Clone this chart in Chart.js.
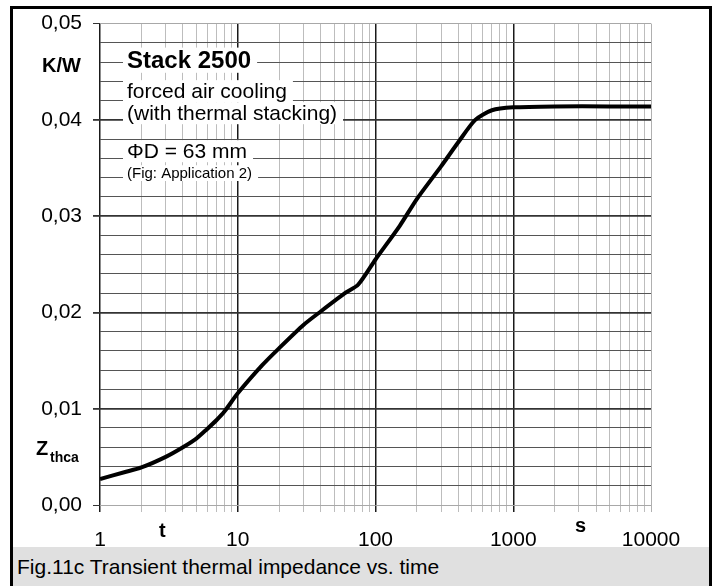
<!DOCTYPE html>
<html>
<head>
<meta charset="utf-8">
<script src="https://cdn.jsdelivr.net/npm/chart.js@4/dist/chart.umd.min.js"></script>
<style>
  html, body { margin: 0; padding: 0; background: #fff; }
  #wrap { position: relative; width: 717px; height: 586px; overflow: hidden; }
  #chart { position: absolute; left: 0; top: 0; }
  #frame { position: absolute; left: 10px; top: 6px; width: 696px; height: 600px;
           border: 3px solid #000; border-bottom: none; pointer-events: none; }
  #caption { position: absolute; left: 13px; top: 547px; width: 696px; height: 39px;
             background: #e0e0e0; font: 21px "Liberation Sans", Arial, sans-serif;
             line-height: 39px; padding-left: 4px; box-sizing: border-box; color: #000; }
</style>
</head>
<body>
<div id="wrap">
  <canvas id="chart" width="717" height="586"></canvas>
  <div id="frame"></div>
  <div id="caption">Fig.11c Transient thermal impedance vs. time</div>
</div>
<script>
// time in s
const times = [1, 1.5, 2, 3, 4, 5, 6, 7, 8, 10, 15, 20, 30, 40, 60, 75, 100, 150, 200, 300, 400, 530, 700, 1000, 2000, 5000, 10000];
// Zthca in K/W
const zthca = [0.0027, 0.0034, 0.0039, 0.0050, 0.0060, 0.0069, 0.0079, 0.0088, 0.0097, 0.0116, 0.0145, 0.0163, 0.0187, 0.0201, 0.0220, 0.0229, 0.0255, 0.0290, 0.0318, 0.0352, 0.0377, 0.0400, 0.0410, 0.0413, 0.0414, 0.0414, 0.0414];

const xDecades = [1, 10, 100, 1000, 10000];
const xMinorSteps = [2, 3, 4, 5, 6, 7, 8, 9];
const yMin = 0, yMax = 0.05, yStep = 0.002;

const annotLines = ["Stack 2500", "forced air cooling", "(with thermal stacking)", "\u03A6D = 63 mm", "(Fig: Application 2)"];

const FONT = '"Liberation Sans", Arial, sans-serif';

function isDecade(v) {
  return xDecades.some(d => Math.abs(d - v) < 1e-9);
}
function isYMajor(v) {
  const k = v * 100;
  return Math.abs(k - Math.round(k)) < 1e-6;
}

// labels and annotation box drawn on top of the grid
const textPlugin = {
  id: 'texts',
  afterDraw(chart) {
    const ctx = chart.ctx;
    ctx.save();
    ctx.textBaseline = 'alphabetic';
    ctx.textAlign = 'left';

    const rows = [
      { txt: annotLines[0], font: 'bold 24px ' + FONT, y: 68 },
      { txt: annotLines[1], font: '21px ' + FONT, y: 98 },
      { txt: annotLines[2], font: '21px ' + FONT, y: 120 },
      { txt: annotLines[3], font: '21px ' + FONT, y: 158 },
      { txt: annotLines[4], font: '15px ' + FONT, y: 178 }
    ];
    const x0 = 127;
    rows.forEach(r => {
      ctx.font = r.font;
      const w = ctx.measureText(r.txt).width;
      const h = parseInt(r.font.match(/(\d+)px/)[1], 10);
      ctx.fillStyle = '#fff';
      ctx.fillRect(x0 - 4, r.y - h * 0.85, w + 10, h * 1.05);
    });
    rows.forEach(r => {
      ctx.font = r.font;
      ctx.fillStyle = '#000';
      ctx.fillText(r.txt, x0, r.y);
    });

    // axis unit labels
    ctx.fillStyle = '#000';
    ctx.font = 'bold 20px ' + FONT;
    ctx.fillText('K/W', 42, 72);
    ctx.fillText('Z', 36, 455);
    ctx.font = 'bold 14px ' + FONT;
    ctx.fillText('thca', 50, 462);
    ctx.font = 'bold 20px ' + FONT;
    ctx.fillText('t', 159, 537);
    ctx.fillText('s', 575, 532);
    ctx.restore();
  }
};

new Chart(document.getElementById('chart'), {
  type: 'line',
  data: {
    datasets: [{
      data: times.map((t, i) => ({ x: t, y: zthca[i] })),
      borderColor: '#000',
      borderWidth: 4,
      pointRadius: 0,
      fill: false,
      tension: 0.25
    }]
  },
  options: {
    responsive: false,
    animation: false,
    layout: { padding: { left: 10, right: 66, top: 20, bottom: 36 } },
    plugins: { legend: { display: false }, tooltip: { enabled: false } },
    scales: {
      x: {
        type: 'logarithmic',
        min: 1,
        max: 10000,
        afterBuildTicks(scale) {
          const ticks = [];
          xDecades.forEach((d, i) => {
            ticks.push({ value: d });
            if (i < xDecades.length - 1) xMinorSteps.forEach(m => ticks.push({ value: d * m }));
          });
          scale.ticks = ticks;
        },
        afterFit(scale) { scale.height = 45; },
        border: { display: false },
        grid: {
          drawOnChartArea: true,
          tickLength: 7,
          lineWidth: ctx => (isDecade(ctx.tick.value) && ctx.tick.value !== 10000 ? 1.5 : 1),
          color: ctx => {
            const v = ctx.tick.value;
            if (v === 10000) return '#b0b0b0';
            return isDecade(v) ? '#1a1a1a' : '#bdbdbd';
          }
        },
        ticks: {
          autoSkip: false,
          maxRotation: 0,
          padding: 16,
          color: '#000',
          font: { family: FONT, size: 21 },
          callback: v => (isDecade(v) ? String(v) : '')
        }
      },
      y: {
        type: 'linear',
        min: yMin,
        max: yMax,
        afterFit(scale) { scale.width = 90; },
        border: { display: false },
        grid: {
          tickLength: 7,
          lineWidth: ctx => (isYMajor(ctx.tick.value) && ctx.index !== 0 && ctx.tick.value < yMax - 1e-9 ? 1.8 : 1),
          color: ctx => {
            const v = ctx.tick.value;
            if (v < 1e-9 || v > yMax - 1e-9) return '#a8a8a8';
            return isYMajor(v) ? '#333' : '#555';
          },
          tickColor: ctx => (isYMajor(ctx.tick.value) ? '#333' : 'rgba(0,0,0,0)')
        },
        ticks: {
          stepSize: yStep,
          autoSkip: false,
          padding: 11,
          color: '#000',
          font: { family: FONT, size: 21 },
          callback: v => (isYMajor(v) ? v.toFixed(2).replace('.', ',') : '')
        }
      }
    }
  },
  plugins: [textPlugin]
});
</script>
</body>
</html>
